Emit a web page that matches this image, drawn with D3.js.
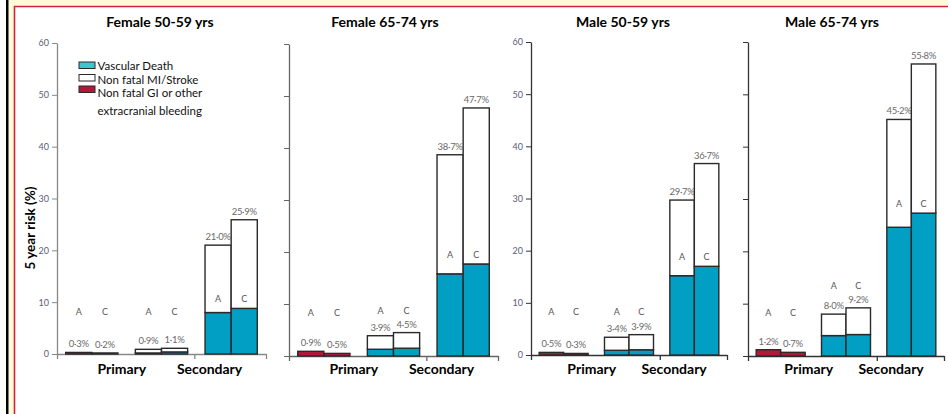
<!DOCTYPE html>
<html>
<head>
<meta charset="utf-8">
<script src="https://cdn.jsdelivr.net/npm/d3@7"></script>
<style>
  body { margin: 0; background: #fff; }
  svg text { font-family: Lato, 'Noto Sans', sans-serif; }
</style>
</head>
<body>
<svg id="chart" width="948" height="414"></svg>
<script>
// panel titles and bar arms
const panelTitles = ['Female 50-59 yrs', 'Female 65-74 yrs', 'Male 50-59 yrs', 'Male 65-74 yrs'];
const arms = ['A', 'C'];
const groupKeys = ['primaryBleed', 'primaryVasc', 'secondaryVasc'];
const groupLabels = ['Primary', 'Secondary'];
const yTicks = [0, 10, 20, 30, 40, 50, 60];

// 5 year risk (%), [A, C] per panel
const primaryBleeding = [[0.3, 0.2], [0.9, 0.5], [0.5, 0.3], [1.2, 0.7]];
const primaryVascDeath = [[0.2, 0.4], [1.3, 1.5], [0.9, 1.0], [3.9, 4.1]];
const primaryTotal = [[0.9, 1.1], [3.9, 4.5], [3.4, 3.9], [8.0, 9.2]];
const secondaryVascDeath = [[8.0, 8.8], [15.8, 17.7], [15.2, 17.0], [24.6, 27.3]];
const secondaryTotal = [[21.0, 25.9], [38.7, 47.7], [29.7, 36.7], [45.2, 55.8]];

const legendItems = [
  { label: ['Vascular Death'], color: '#3cc6d2' },
  { label: ['Non fatal MI/Stroke'], color: '#ffffff' },
  { label: ['Non fatal GI or other', 'extracranial bleeding'], color: '#b3183b' }
];

const TEAL = '#009fc3';
const RED = '#b3183b';
const STROKE = '#2a2a2a';

// panel layout (pixels)
const layout = [
  { x0: 57, w: 209, y0: 354, y1: 43, titleX: 160, showLabels: true, axis: '#888' },
  { x0: 289, w: 209, y0: 356, y1: 44, titleX: 385, showLabels: false, axis: '#666' },
  { x0: 531, w: 196, y0: 355, y1: 42, titleX: 623, showLabels: true, axis: '#333' },
  { x0: 748, w: 196, y0: 356, y1: 42, titleX: 832, showLabels: false, axis: '#333' }
];

const svg = d3.select('#chart');

// page frame
svg.append('rect').attr('x', 9).attr('y', 0).attr('width', 939).attr('height', 5.5).attr('fill', '#fffbd6');
svg.append('rect').attr('x', 9).attr('y', 0).attr('width', 5).attr('height', 414).attr('fill', '#fffbd6');
svg.append('rect').attr('x', 6).attr('y', 0).attr('width', 2.5).attr('height', 414).attr('fill', '#000');
svg.append('path').attr('d', 'M14.5,414V6.5H948').attr('fill', 'none').attr('stroke', '#d3223d').attr('stroke-width', 1.6);

const fmt = v => v.toFixed(1).replace('.', '\u00b7') + '%';

// y axis title
svg.append('text')
  .attr('transform', 'translate(35,228) rotate(-90)')
  .attr('text-anchor', 'middle')
  .attr('font-size', 13.5)
  .attr('font-weight', 'bold')
  .text('5 year risk (%)');

panelTitles.forEach((title, p) => {
  const L = layout[p];
  const g = svg.append('g');

  const y = d3.scaleLinear().domain([0, 60]).range([L.y0, L.y1]);
  const x = d3.scaleBand().domain(groupKeys).range([L.x0, L.x0 + L.w])
    .paddingInner(0.25).paddingOuter(0.125);
  const xs = d3.scaleBand().domain(arms).range([0, x.bandwidth()]);

  // title
  g.append('text')
    .attr('x', L.titleX).attr('y', 27)
    .attr('text-anchor', 'middle')
    .attr('font-size', 14).attr('font-weight', 'bold')
    .text(title);

  // y axis
  const yAxis = g.append('g')
    .attr('transform', `translate(${L.x0},0)`)
    .call(d3.axisLeft(y).tickValues(yTicks).tickSize(5).tickSizeOuter(0)
      .tickFormat(L.showLabels ? d3.format('d') : ''));
  yAxis.select('.domain').attr('stroke', L.axis).attr('stroke-width', 1.3);
  yAxis.selectAll('.tick line').attr('stroke', L.axis);
  yAxis.selectAll('.tick text').attr('fill', '#5c5c78').attr('font-size', 9).attr('font-family', 'Lato, sans-serif');

  // x axis: start, primary/secondary split, end
  const xl = d3.scaleLinear().domain([0, 1]).range([L.x0, L.x0 + L.w]);
  const xAxis = g.append('g')
    .attr('transform', `translate(0,${L.y0})`)
    .call(d3.axisBottom(xl).tickValues([0, 0.657, 1]).tickSize(5).tickSizeOuter(0).tickFormat(''));
  xAxis.select('.domain').attr('stroke', L.axis).attr('stroke-width', 1.3);
  xAxis.selectAll('.tick line').attr('stroke', L.axis).attr('stroke-width', 1.3);

  // group labels
  [0.31, 0.73].forEach((f, i) => {
    g.append('text')
      .attr('x', xl(f)).attr('y', 374)
      .attr('text-anchor', 'middle')
      .attr('font-size', 14).attr('font-weight', 'bold')
      .text(groupLabels[i]);
  });

  // bar records
  const bars = [];
  arms.forEach((arm, i) => {
    bars.push({ group: 'primaryBleed', arm, segs: [[0, primaryBleeding[p][i], RED]], total: primaryBleeding[p][i] });
    bars.push({ group: 'primaryVasc', arm, segs: [[0, primaryVascDeath[p][i], TEAL], [primaryVascDeath[p][i], primaryTotal[p][i], '#fff']], total: primaryTotal[p][i] });
    bars.push({ group: 'secondaryVasc', arm, segs: [[0, secondaryVascDeath[p][i], TEAL], [secondaryVascDeath[p][i], secondaryTotal[p][i], '#fff']], total: secondaryTotal[p][i] });
  });

  const barG = g.selectAll('g.bar')
    .data(bars)
    .enter()
    .append('g')
    .attr('class', 'bar')
    .attr('transform', d => `translate(${x(d.group) + xs(d.arm)},0)`);

  barG.selectAll('rect')
    .data(d => d.segs)
    .enter()
    .append('rect')
    .attr('x', 0)
    .attr('y', s => y(s[1]))
    .attr('width', xs.bandwidth())
    .attr('height', s => y(s[0]) - y(s[1]))
    .attr('fill', s => s[2])
    .attr('stroke', STROKE)
    .attr('stroke-width', 1.4);

  // value labels
  barG.append('text')
    .attr('x', xs.bandwidth() / 2)
    .attr('y', d => y(d.total) - 5)
    .attr('text-anchor', 'middle')
    .attr('font-size', 9.5)
    .attr('fill', '#6a6a6a')
    .attr('letter-spacing', -0.3)
    .text(d => fmt(d.total));

  // A / C labels
  groupKeys.forEach(key => {
    const gb = bars.filter(b => b.group === key);
    let ly;
    if (key === 'secondaryVasc') {
      ly = y(d3.max(gb, b => b.segs[0][1])) - 6;
    } else {
      ly = Math.min(y(7.6), y(d3.max(gb, b => b.total)) - 19);
    }
    arms.forEach(arm => {
      g.append('text')
        .attr('x', x(key) + xs(arm) + xs.bandwidth() / 2)
        .attr('y', ly)
        .attr('text-anchor', 'middle')
        .attr('font-size', 9)
        .attr('fill', '#555')
        .text(arm);
    });
  });

  // legend on first panel
  if (p === 0) {
    const swatchY = [62, 74.5, 86];
    const textY = [70, 83.5, 97];
    const lg = g.append('g').attr('transform', 'translate(79,0)');
    legendItems.forEach((item, i) => {
      lg.append('rect')
        .attr('y', swatchY[i])
        .attr('width', 16).attr('height', 6.5)
        .attr('fill', item.color).attr('stroke', STROKE).attr('stroke-width', 1);
      item.label.forEach((line, j) => {
        lg.append('text')
          .attr('x', 18.5).attr('y', textY[i] + j * 18)
          .attr('font-size', 11.5)
          .attr('fill', '#111')
          .text(line);
      });
    });
  }
});
</script>
</body>
</html>
